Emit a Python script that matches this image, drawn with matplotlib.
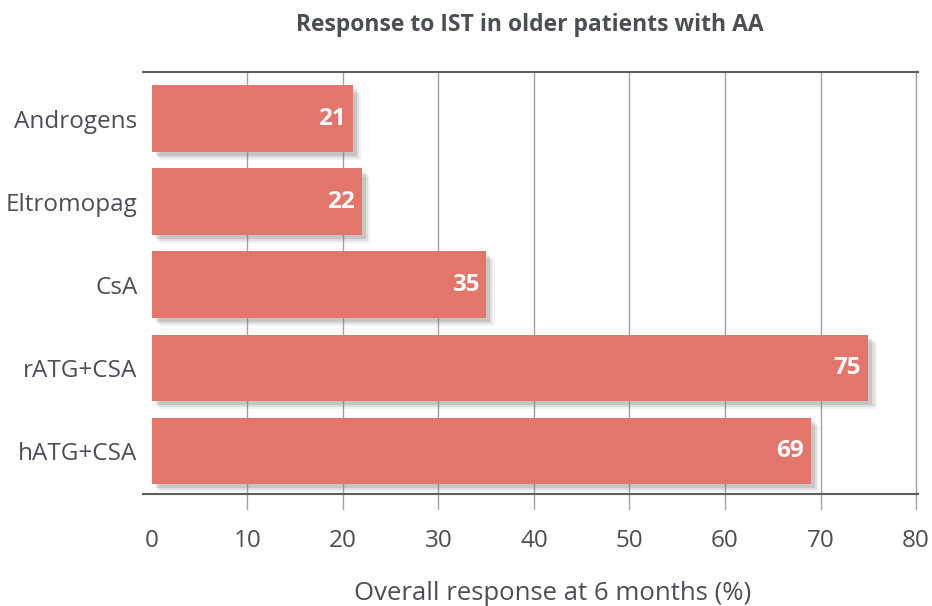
import matplotlib.pyplot as plt
import matplotlib.patheffects as pe

# данные с картинки
therapies = ['Androgens', 'Eltromopag', 'CsA', 'rATG+CSA', 'hATG+CSA']
response = [21, 22, 35, 75, 69]
x_ticks = [0, 10, 20, 30, 40, 50, 60, 70, 80]

bar_color = '#E4756A'
text_color = '#4B4E53'

plt.rcParams['font.family'] = ['Open Sans', 'DejaVu Sans']

fig = plt.figure(figsize=(9.32, 6.06), dpi=100)
ax = fig.add_axes([0.1534, 0.1848, 0.8316, 0.6964])

# тень: несколько полупрозрачных копий со сдвигом
shadow = [
    pe.SimplePatchShadow(offset=(6, -6), shadow_rgbFace='#808080', alpha=0.1),
    pe.SimplePatchShadow(offset=(4.5, -4.5), shadow_rgbFace='#808080', alpha=0.18),
    pe.SimplePatchShadow(offset=(3, -3), shadow_rgbFace='#808080', alpha=0.25),
    pe.Normal(),
]

pos = list(range(len(therapies)))
bars = ax.barh(pos, response, height=0.8, color=bar_color, zorder=3)
for b in bars:
    b.set_path_effects(shadow)

for p, v in zip(pos, response):
    ax.annotate(str(v), xy=(v, p), xytext=(-5, 0), textcoords='offset points',
                ha='right', va='center', color='white', fontsize=17.5,
                fontweight='bold', zorder=4)

ax.set_xlim(-0.94, 80.21)
ax.set_ylim(4.52, -0.56)

# вертикальная сетка (без линии на нуле), спускается под ось
for t in x_ticks[1:]:
    ax.axvline(t, ymin=-0.036, ymax=1, color='#A0A0A0', lw=1.0, zorder=1,
               clip_on=False)

ax.set_xticks(x_ticks)
ax.set_xticklabels([str(t) for t in x_ticks])
ax.tick_params(axis='x', length=0, pad=25, labelsize=17.5, labelcolor=text_color)
ax.set_yticks(pos)
ax.set_yticklabels(therapies)
ax.tick_params(axis='y', length=0, pad=4, labelsize=17.5, labelcolor=text_color)

for side in ['left', 'right']:
    ax.spines[side].set_visible(False)
for side in ['top', 'bottom']:
    ax.spines[side].set_color('#5A5D62')
    ax.spines[side].set_linewidth(1.5)

ax.set_xlabel('Overall response at 6 months (%)', fontsize=18.5, color=text_color)
ax.xaxis.label.set_va('center')
ax.xaxis.set_label_coords(0.5284, -0.236)

fig.text(0.569, 0.958, 'Response to IST in older patients with AA', ha='center',
         va='center', fontsize=16.5, fontweight='bold', color=text_color)

fig.savefig('out.png', dpi=100)
